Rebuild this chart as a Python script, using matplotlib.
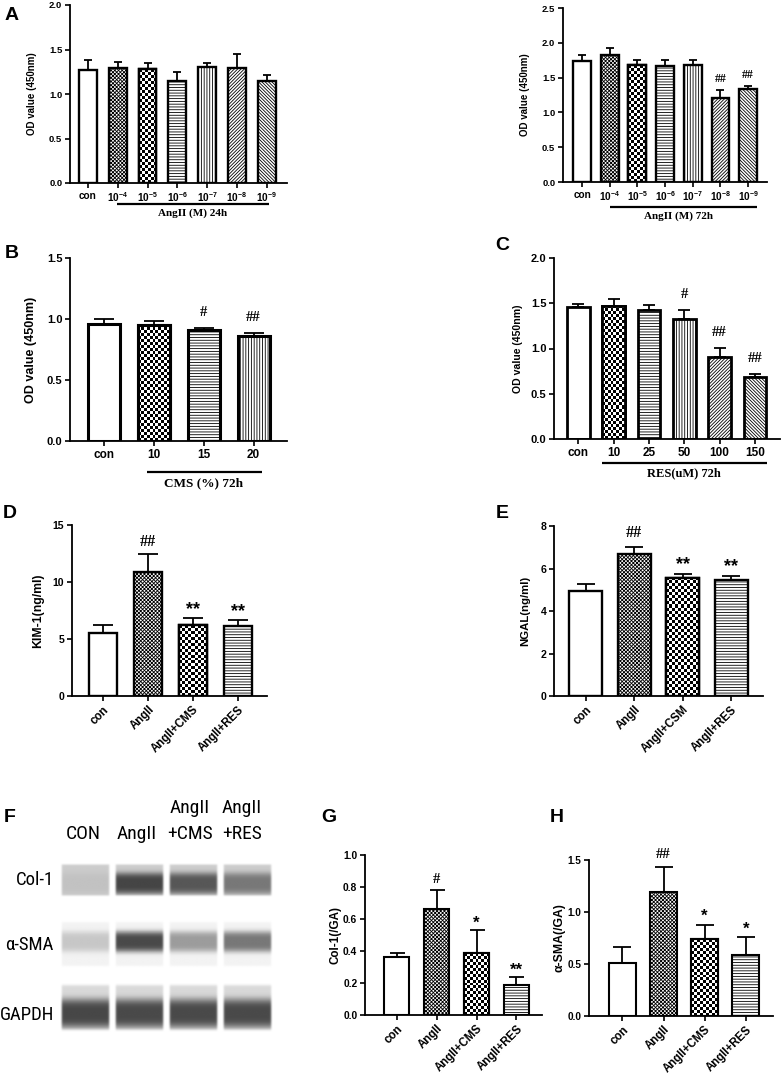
import numpy as np
import matplotlib
matplotlib.use("Agg")
from matplotlib import pyplot as plt
from matplotlib import transforms
from matplotlib import font_manager as fm

plt.rcParams['font.family'] = ['Liberation Sans', 'DejaVu Sans']
plt.rcParams['font.weight'] = 'bold'
plt.rcParams['axes.labelweight'] = 'bold'
plt.rcParams['mathtext.fontset'] = 'custom'
plt.rcParams['mathtext.bf'] = 'Liberation Sans:bold'
plt.rcParams['mathtext.rm'] = 'Liberation Sans:bold'
plt.rcParams['hatch.linewidth'] = 0.6

# ---- data ----
a_labels = ['con', r'$\mathbf{10^{-4}}$', r'$\mathbf{10^{-5}}$', r'$\mathbf{10^{-6}}$',
            r'$\mathbf{10^{-7}}$', r'$\mathbf{10^{-8}}$', r'$\mathbf{10^{-9}}$']
a24_mean = [1.27, 1.29, 1.28, 1.15, 1.30, 1.29, 1.15]
a24_err = [0.11, 0.075, 0.07, 0.10, 0.05, 0.16, 0.06]
a24_sig = ['', '', '', '', '', '', '']
a72_mean = [1.74, 1.82, 1.68, 1.67, 1.68, 1.21, 1.34]
a72_err = [0.08, 0.10, 0.07, 0.08, 0.07, 0.11, 0.035]
a72_sig = ['', '', '', '', '', '##', '##']

b_labels = ['con', '10', '15', '20']
b_mean = [0.96, 0.953, 0.913, 0.858]
b_err = [0.04, 0.033, 0.017, 0.027]
b_sig = ['', '', '#', '##']

c_labels = ['con', '10', '25', '50', '100', '150']
c_mean = [1.456, 1.47, 1.42, 1.33, 0.91, 0.68]
c_err = [0.035, 0.08, 0.06, 0.10, 0.10, 0.04]
c_sig = ['', '', '', '#', '##', '##']

d_labels = ['con', 'AngII', 'AngII+CMS', 'AngII+RES']
d_mean = [5.53, 10.88, 6.2, 6.14]
d_err = [0.67, 1.55, 0.64, 0.56]
d_sig = ['', '##', '**', '**']

e_labels = ['con', 'AngII', 'AngII+CSM', 'AngII+RES']
e_mean = [4.96, 6.69, 5.56, 5.44]
e_err = [0.31, 0.34, 0.16, 0.19]
e_sig = ['', '##', '**', '**']

g_labels = ['con', 'AngII', 'AngII+CMS', 'AngII+RES']
g_mean = [0.36, 0.664, 0.386, 0.19]
g_err = [0.026, 0.116, 0.144, 0.045]
g_sig = ['', '#', '*', '**']

h_mean = [0.51, 1.19, 0.74, 0.587]
h_err = [0.15, 0.24, 0.135, 0.17]
h_sig = ['', '##', '*', '*']

blot_lanes = ['CON', 'AngII', 'AngII\n+CMS', 'AngII\n+RES']
blot_rows = ['Col-1', 'α-SMA', 'GAPDH']
col1_band = [0.04, 0.53, 0.46, 0.33]
sma_band = [0.17, 0.66, 0.34, 0.48]
gapdh_band = [0.57, 0.56, 0.56, 0.56]

W, H = 782, 1075
fig = plt.figure(figsize=(W / 100, H / 100), dpi=100)


def px_axes(l, t, r, b):
    return fig.add_axes([l / W, 1 - b / H, (r - l) / W, (b - t) / H])


def checker_fill(ax, bar, cell):
    x0, w, h = bar.get_x(), bar.get_width(), bar.get_height()
    p0 = ax.transData.transform((x0, 0))
    p1 = ax.transData.transform((x0 + w, h))
    nx = max(1, int(round((p1[0] - p0[0]) / cell)))
    ny = max(1, int(round((p1[1] - p0[1]) / cell)))
    grid = (np.add.outer(np.arange(ny), np.arange(nx)) % 2).astype(float)
    im = ax.imshow(grid, extent=(x0, x0 + w, 0, h), cmap='gray', vmin=0, vmax=1,
                   interpolation='nearest', aspect='auto', zorder=1.5)
    im.set_clip_path(bar)


def bar_panel(box, mean, err, sig, labels, patterns, ylim, yticks, ylabel,
              width=0.63, lw=1.8, cap=4, tick_fs=7, xtick_fs=None, lab_fs=8,
              lab_x=-35, rot=False, sig_off=10, star_fs=11):
    l, t, r, b = box
    ax = px_axes(l, t, r, b)
    n = len(mean)
    x = np.arange(n)
    ax.set_xlim(-0.68, n - 0.34)
    ax.set_ylim(*ylim)
    for i in range(n):
        p = patterns[i]
        hatch = None if p in ('', 'checker') else p
        bars = ax.bar(x[i], mean[i], width, color='white', edgecolor='black',
                      linewidth=lw, hatch=hatch, zorder=1)
        if p == 'checker':
            checker_fill(ax, bars[0], 3.0)
            ax.bar(x[i], mean[i], width, color='none', edgecolor='black',
                   linewidth=lw, zorder=2)
    ax.errorbar(x, mean, yerr=[np.zeros(n), err], fmt='none', ecolor='black',
                elinewidth=1.3, capsize=cap, capthick=1.3, zorder=3)
    for i in range(n):
        if sig[i]:
            star = '*' in sig[i]
            ax.annotate(sig[i], (x[i], mean[i] + err[i]),
                        xytext=(0, sig_off - (3 if star else 0)), textcoords='offset points',
                        ha='center', va='center',
                        fontsize=star_fs if star else star_fs - 1.5,
                        family='Liberation Sans' if star else 'Liberation Serif',
                        fontweight='bold')
    for s in ('top', 'right'):
        ax.spines[s].set_visible(False)
    for s in ('left', 'bottom'):
        ax.spines[s].set_linewidth(1.3)
    ax.set_yticks(yticks)
    ax.set_xticks(x)
    ax.tick_params(width=1.2, length=3.5, labelsize=tick_fs, pad=2)
    xfs = xtick_fs or tick_fs
    if rot:
        ax.set_xticklabels(labels, rotation=45, ha='right', va='top',
                           rotation_mode='anchor', fontsize=xfs)
    else:
        ax.set_xticklabels(labels, fontsize=xfs)
    ax.set_ylabel(ylabel, fontsize=lab_fs)
    ax.yaxis.set_label_coords(lab_x / (r - l), 0.5)
    return ax


def bracket(ax, box, n, x_lo, x_hi, y_line, y_text, text, fs):
    l, t, r, b = box
    tr = transforms.blended_transform_factory(ax.transData, ax.transAxes)
    yl = (b - y_line) / (b - t)
    yt = (b - y_text) / (b - t)
    ax.plot([1 + x_lo, n - 1 + x_hi], [yl, yl], transform=tr, color='black',
            lw=1.6, clip_on=False, solid_capstyle='butt')
    ax.text(n / 2, yt, text, transform=tr, ha='center', va='center',
            family='Liberation Serif', fontweight='bold', fontsize=fs)


dense = 'x' * 9
fwd = '/' * 10
back = '\\' * 10
pat_a = ['', dense, 'checker', '------', '||||||', fwd, back]
pat_b = ['', 'checker', '------', '||||||']
pat_c = ['', 'checker', '------', '||||||', fwd, back]
pat_d = ['', dense, 'checker', '------']

# A, 24h
box = (70, 5, 287, 183)
ax = bar_panel(box, a24_mean, a24_err, a24_sig, a_labels, pat_a, (0, 2.0),
               [0, 0.5, 1.0, 1.5, 2.0], 'OD value (450nm)', width=0.6, lw=1.7,
               cap=3.2, tick_fs=6.8, xtick_fs=7.2, lab_fs=7, lab_x=-33)
ax.set_xlim(-0.6, 6.68)
bracket(ax, box, 7, -0.03, 0.07, 204, 213, 'AngII (M) 24h', 8)

# A, 72h
box = (563, 8, 767, 182)
ax = bar_panel(box, a72_mean, a72_err, a72_sig, a_labels, pat_a, (0, 2.5),
               [0, 0.5, 1.0, 1.5, 2.0, 2.5], 'OD value (450nm)', width=0.65, lw=1.7,
               cap=3, tick_fs=6.8, xtick_fs=7.2, lab_fs=7, lab_x=-33, sig_off=8,
               star_fs=10)
ax.set_xlim(-0.69, 6.68)
bracket(ax, box, 7, -0.01, 0.33, 207, 216, 'AngII (M) 72h', 8)

# B
box = (70, 258, 287, 441)
ax = bar_panel(box, b_mean, b_err, b_sig, b_labels, pat_b, (0, 1.5),
               [0, 0.5, 1.0, 1.5], 'OD value (450nm)', width=0.64, lw=2.2,
               cap=7, tick_fs=8, xtick_fs=8.5, lab_fs=9, lab_x=-33, sig_off=11,
               star_fs=12)
ax.set_xlim(-0.68, 3.67)
bracket(ax, box, 4, -0.14, 0.17, 472, 483, 'CMS (%) 72h', 9.5)

# C
box = (554, 258, 780, 439)
ax = bar_panel(box, c_mean, c_err, c_sig, c_labels, pat_c, (0, 2.0),
               [0, 0.5, 1.0, 1.5, 2.0], 'OD value (450nm)', width=0.64, lw=2.0,
               cap=4.3, tick_fs=8, xtick_fs=8.5, lab_fs=7.6, lab_x=-31, sig_off=11,
               star_fs=12)
ax.set_xlim(-0.69, 5.71)
bracket(ax, box, 6, -0.34, 0.34, 463, 473, 'RES(uM) 72h', 9)

# D
box = (72, 525, 267, 696)
ax = bar_panel(box, d_mean, d_err, d_sig, d_labels, pat_d, (0, 15),
               [0, 5, 10, 15], 'KIM-1(ng/ml)', width=0.62, lw=1.7, cap=7.4,
               tick_fs=7.6, xtick_fs=8.3, lab_fs=8.8, lab_x=-28, rot=True,
               sig_off=9, star_fs=13)
ax.set_xlim(-0.69, 3.65)

# E
box = (554, 526, 763, 696)
ax = bar_panel(box, e_mean, e_err, e_sig, e_labels, pat_d, (0, 8),
               [0, 2, 4, 6, 8], 'NGAL(ng/ml)', width=0.68, lw=1.7, cap=6.6,
               tick_fs=7.6, xtick_fs=8.3, lab_fs=8.2, lab_x=-24, rot=True,
               sig_off=10, star_fs=13)
ax.set_xlim(-0.66, 3.66)

# G
box = (365, 855, 542, 1015)
ax = bar_panel(box, g_mean, g_err, g_sig, g_labels, pat_d, (0, 1.0),
               [0, 0.2, 0.4, 0.6, 0.8, 1.0], 'Col-1(/GA)', width=0.63, lw=1.5,
               cap=5.4, tick_fs=7.4, xtick_fs=8.3, lab_fs=8.4, lab_x=-23, rot=True,
               sig_off=8, star_fs=12)
ax.set_xlim(-0.8, 3.64)

# H
box = (589, 860, 773, 1016)
ax = bar_panel(box, h_mean, h_err, h_sig, g_labels, pat_d, (0, 1.5),
               [0, 0.5, 1.0, 1.5], 'α-SMA(/GA)', width=0.65, lw=1.5, cap=6.6,
               tick_fs=7.2, xtick_fs=8.3, lab_fs=8.8, lab_x=-23, rot=True,
               sig_off=9, star_fs=12)
ax.set_xlim(-0.81, 3.66)

# F: blot
bax = px_axes(55, 855, 280, 1040)
bax.set_xlim(0, 225)
bax.set_ylim(185, 0)
bax.axis('off')


def soft(v, lo, hi, k):
    return 0.25 * (1 + np.tanh((v - lo) / k)) * (1 + np.tanh((hi - v) / k))


row_style = [  # top, bottom, band centre, band half width, halo
    (8, 42, 0.6, 0.32, 0.2),
    (65, 113, 0.45, 0.22, 0.05),
    (128, 177, 0.62, 0.3, 0.15),
]
bands = [col1_band, sma_band, gapdh_band]
for (t, b, c, s, halo), vals in zip(row_style, bands):
    ny, nx = 80, 80
    yy = np.linspace(0, 1, ny)[:, None]
    xx = np.linspace(0, 1, nx)[None, :]
    ey = soft(yy, 0.04, 0.96, 0.03)
    ex = soft(xx, 0.03, 0.97, 0.02)
    for i, v in enumerate(vals):
        prof = halo + v * np.exp(-((yy - c) / s) ** 4)
        img = np.clip(1 - prof * ey * ex, 0, 1)
        x0 = 5 + 54 * i
        bax.imshow(img, extent=(x0, x0 + 51, b, t), cmap='gray', vmin=0, vmax=1,
                   interpolation='bilinear', aspect='auto')
bax.set_xlim(0, 225)
bax.set_ylim(185, 0)

# a narrow face for the blot labels, if one is installed
installed = {f.name for f in fm.fontManager.ttflist}
narrow = None
for name in ['Roboto Condensed', 'Liberation Sans Narrow', 'Open Sans Condensed',
             'Noto Sans Condensed', 'DejaVu Sans Condensed']:
    if name in installed:
        narrow = name
        break
if narrow:
    blot_font, lane_fs, row_fs = [narrow, 'DejaVu Sans'], 14, 13.5
else:
    blot_font, lane_fs, row_fs = ['Liberation Sans', 'DejaVu Sans'], 12, 10.5

lane_x = [83, 137, 190, 242]
for lx, name in zip(lane_x, blot_lanes):
    parts = name.split('\n')
    fig.text(lx / W, 1 - 834 / H, parts[-1], ha='center', va='center',
             fontsize=lane_fs, fontweight='normal', family=blot_font)
    if len(parts) > 1:
        fig.text(lx / W, 1 - 808 / H, parts[0], ha='center', va='center',
                 fontsize=lane_fs, fontweight='normal', family=blot_font)
for ry, name in zip([880, 945, 1015], blot_rows):
    fig.text(54 / W, 1 - ry / H, name, ha='right', va='center', fontsize=row_fs,
             fontweight='normal', family=blot_font)

# panel letters
letters = [('A', 12, 15), ('B', 12, 254), ('C', 502, 245), ('D', 10, 513),
           ('E', 502, 513), ('F', 10, 817), ('G', 329, 817), ('H', 557, 817)]
for s, lx, ly in letters:
    fig.text(lx / W, 1 - ly / H, s, ha='center', va='center', fontsize=14,
             fontweight='bold')

fig.savefig('out.png', dpi=100)
